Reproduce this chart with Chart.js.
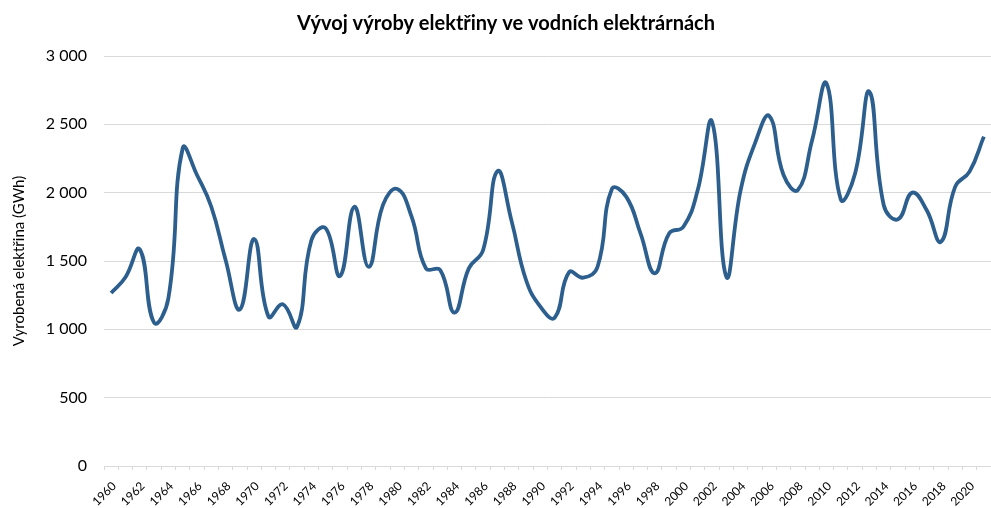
<!DOCTYPE html>
<html>
<head>
<meta charset="utf-8">
<script src="https://cdn.jsdelivr.net/npm/chart.js@4/dist/chart.umd.min.js"></script>
<style>
html,body{margin:0;padding:0;background:#fff;}
#wrap{width:991px;height:508px;position:relative;}
</style>
</head>
<body>
<div id="wrap"><canvas id="c" width="991" height="508"></canvas></div>
<script>
const years = [];
for (let y = 1960; y <= 2021; y++) years.push(String(y));

const production = [
  1266, 1381, 1585, 1049, 1227, 2325, 2129, 1897, 1507, 1146,
  1661, 1093, 1183, 1019, 1654, 1739, 1390, 1897, 1458, 1910,
  2027, 1824, 1446, 1434, 1122, 1446, 1580, 2158, 1788, 1361,
  1166, 1085, 1417, 1378, 1458, 2027, 1971, 1702, 1410, 1702,
  1751, 2019, 2519, 1385, 2019, 2361, 2561, 2129, 2019, 2385,
  2800, 1951, 2141, 2739, 1910, 1805, 2000, 1873, 1641, 2044,
  2154, 2410
];

const yTicks = [0, 500, 1000, 1500, 2000, 2500, 3000];

const titleText = 'Vývoj výroby elektřiny ve vodních elektrárnách';
const yTitle = 'Vyrobená elektřina (GWh)';
const FONT = 'Lato, "Liberation Sans", sans-serif';

function fmt(v){ return String(v).replace(/\B(?=(\d{3})+(?!\d))/g, ' '); }

const shiftTitle = {
  id: 'shiftTitle',
  afterLayout(chart){ if (chart.titleBlock) { chart.titleBlock.left = 21; } }
};

new Chart(document.getElementById('c'), {
  type: 'line',
  data: {
    labels: years,
    datasets: [{
      data: production,
      borderColor: '#2C5E8E',
      borderWidth: 3.8,
      pointRadius: 0,
      tension: 0.45,
      fill: false
    }]
  },
  plugins: [shiftTitle],
  options: {
    responsive: false,
    animation: false,
    devicePixelRatio: 1,
    layout: { padding: { left: 0, right: 0, top: 0, bottom: 0 } },
    plugins: {
      legend: { display: false },
      tooltip: { enabled: false },
      title: {
        display: true,
        text: titleText,
        color: '#000',
        font: { family: FONT, size: 20, weight: 'bold', lineHeight: 1.2 },
        padding: { top: 12, bottom: 20 }
      }
    },
    scales: {
      x: {
        type: 'category',
        offset: true,
        grid: {
          display: true,
          offset: true,
          drawOnChartArea: false,
          drawTicks: true,
          tickLength: 4,
          color: '#d9d9d9'
        },
        border: { display: true, color: '#d9d9d9', width: 1 },
        ticks: {
          autoSkip: false,
          minRotation: 45,
          maxRotation: 45,
          padding: 9,
          labelOffset: 3,
          color: '#000',
          font: { family: FONT, size: 12 },
          callback: function(v, i){ return (i % 2 === 0) ? years[i] : ''; }
        },
        afterFit: function(s){ s.height = 42; s.paddingLeft = 0; s.paddingRight = 0; }
      },
      y: {
        min: 0,
        max: 3000,
        afterBuildTicks: function(s){ s.ticks = yTicks.map(v => ({ value: v })); },
        grid: { color: '#d9d9d9', drawTicks: false, lineWidth: 1 },
        border: { display: false },
        ticks: {
          padding: 17,
          color: '#000',
          font: { family: FONT, size: 16 },
          callback: function(v){ return fmt(v); }
        },
        title: {
          display: true,
          text: yTitle,
          color: '#000',
          font: { family: FONT, size: 15 },
          padding: { top: 10, bottom: 0 }
        },
        afterFit: function(s){ s.width = 104; s.paddingTop = 0; s.paddingBottom = 0; }
      }
    }
  }
});
</script>
</body>
</html>
